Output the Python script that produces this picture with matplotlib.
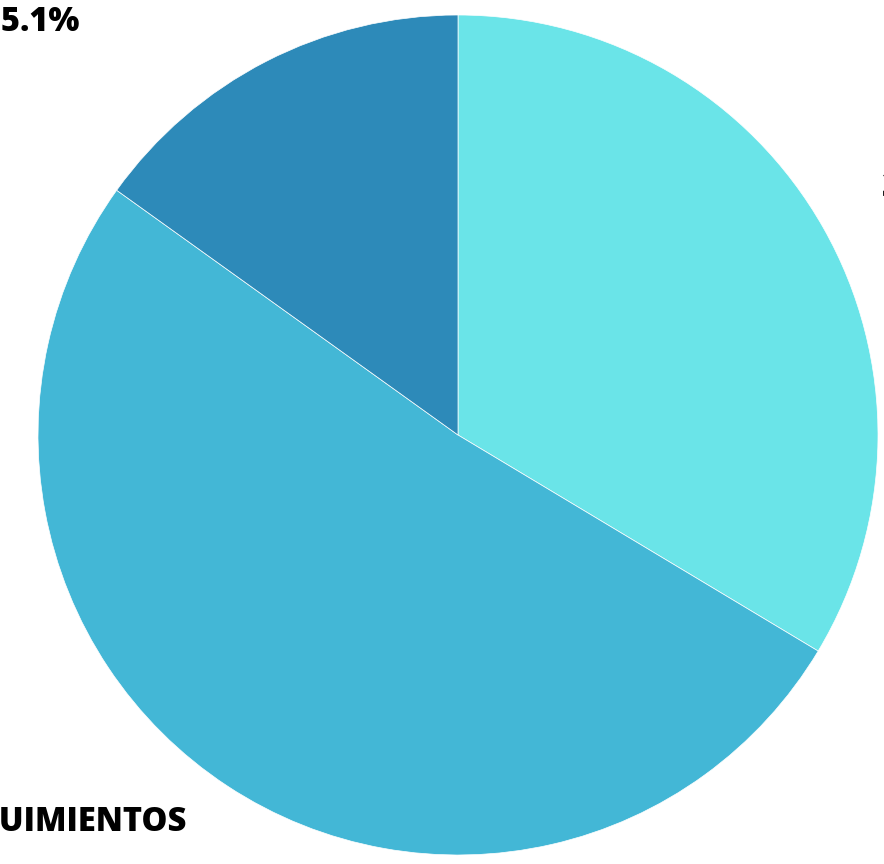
import matplotlib.pyplot as plt

# slice values (percent), clockwise from 12 o'clock
categories = ["CAPACITACIONES", "SEGUIMIENTOS", "OTROS"]
values = [33.6, 51.3, 15.1]
colors = ["#6AE4E8", "#43B7D6", "#2D8AB9"]

plt.rcParams['font.family'] = ['Open Sans', 'DejaVu Sans']

W, H = 884, 864
fig = plt.figure(figsize=(W / 100, H / 100), dpi=100)
ax = fig.add_axes([0, 0, 1, 1])
ax.set_xlim(0, W)
ax.set_ylim(0, H)
ax.set_aspect('equal')
ax.axis('off')

ax.pie(values, colors=colors, startangle=90, counterclock=False,
       center=(458, H - 435), radius=420,
       wedgeprops=dict(edgecolor='white', linewidth=0.5))
ax.set_xlim(0, W)
ax.set_ylim(0, H)

# labels sit mostly outside the canvas, as in the reference
lbl = dict(fontsize=23.5, fontweight='heavy', color='black', va='baseline')
ax.text(80, H - 31, f"{values[2]}%", ha='right', **lbl)
ax.text(187, H - 831, categories[1], ha='right', **lbl)
ax.text(882, H - 197, f"{values[0]}%", ha='left', **lbl)

fig.savefig("out.png", dpi=100)
